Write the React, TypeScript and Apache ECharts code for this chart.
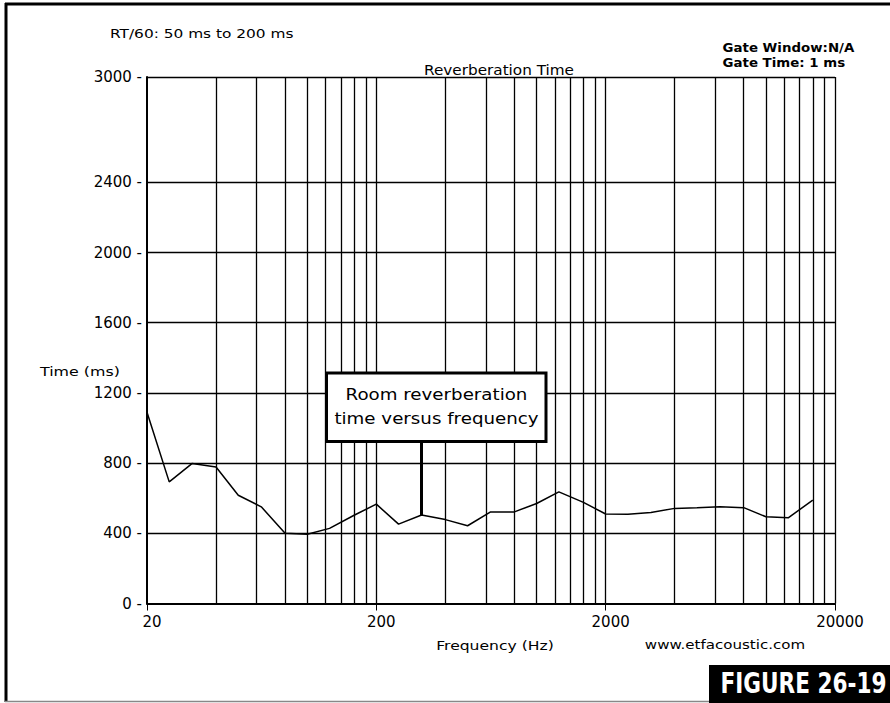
import React, { useEffect, useRef } from 'react';
import * as echarts from 'echarts';

// Third-octave centre frequencies (Hz) and reverberation time (ms)
const frequencies = [20, 25, 31.5, 40, 50, 63, 80, 100, 125, 160, 200, 250, 315, 400, 500, 630, 800, 1000, 1250, 1600, 2000, 2500, 3150, 4000, 5000, 6300, 8000, 10000, 12500, 16000];
const rt60 = [1090, 693, 798, 778, 617, 551, 400, 395, 428, 503, 566, 452, 504, 478, 443, 522, 522, 570, 636, 576, 510, 508, 519, 542, 546, 551, 546, 494, 488, 589];

const xTickLabels = [20, 200, 2000, 20000];
const yTickLabels = [0, 400, 800, 1200, 1600, 2000, 2400, 3000];
const verticalGrid = [40, 60, 80, 100, 120, 140, 160, 180, 200, 400, 600, 800, 1000, 1200, 1400, 1600, 1800, 2000, 4000, 6000, 8000, 10000, 12000, 14000, 16000, 18000, 20000];
const horizontalGrid = [400, 800, 1200, 1600, 2000, 2400, 3000];

// annotation pointer: frequency and its span in ms
const pointerFreq = 315;
const pointerFrom = 504;
const pointerTo = 920;

const FONT = 'DejaVu Sans';

export default function App() {
  const ref = useRef<HTMLDivElement>(null);
  useEffect(() => {
    if (!ref.current) return;
    const chart = echarts.init(ref.current, undefined, { renderer: 'svg' });
    const txt = (x: number, y: number, text: string, font: string, scaleX: number, align = 'left', z = 50) => ({
      type: 'text',
      x,
      y,
      scaleX,
      z,
      style: { text, fill: '#000', font, textAlign: align, textVerticalAlign: 'middle' },
    });
    const option: any = {
      animation: false,
      backgroundColor: '#ffffff',
      textStyle: { fontFamily: FONT, color: '#000' },
      grid: { left: 147, right: 55, top: 77, bottom: 99.5, containLabel: false, outerBoundsMode: 'none' },
      xAxis: {
        type: 'log',
        logBase: 10,
        min: 20,
        max: 20000,
        axisLine: { show: true, lineStyle: { color: '#000', width: 2 } },
        axisTick: { show: true, customValues: xTickLabels, length: 7, lineStyle: { color: '#000', width: 1 } },
        axisLabel: {
          customValues: xTickLabels,
          color: '#000',
          fontFamily: FONT,
          fontSize: 15,
          margin: 11,
          padding: [0, 0, 0, 10],
          formatter: (v: number) => String(v),
        },
        splitLine: { show: false },
        minorTick: { show: false },
      },
      yAxis: {
        type: 'value',
        min: 0,
        max: 3000,
        axisLine: { show: true, lineStyle: { color: '#000', width: 2 } },
        axisTick: { show: false },
        axisLabel: {
          customValues: yTickLabels,
          color: '#000',
          fontFamily: FONT,
          fontSize: 15,
          margin: 5,
          formatter: (v: number) => `${v} -`,
        },
        splitLine: { show: false },
      },
      series: [
        {
          name: 'grid',
          type: 'line',
          data: [],
          silent: true,
          z: 1,
          markLine: {
            silent: true,
            symbol: 'none',
            animation: false,
            label: { show: false },
            lineStyle: { color: '#000', width: 1.3, type: 'solid' },
            data: [
              ...verticalGrid.map((v) => ({ xAxis: v })),
              ...horizontalGrid.map((v) => ({ yAxis: v })),
            ],
          },
        },
        {
          name: 'Reverberation Time',
          type: 'line',
          data: frequencies.map((f, i) => [f, rt60[i]]),
          symbol: 'none',
          lineStyle: { color: '#000', width: 1.5 },
          z: 5,
          markLine: {
            silent: true,
            symbol: 'none',
            animation: false,
            label: { show: false },
            lineStyle: { color: '#000', width: 3, type: 'solid' },
            data: [[{ coord: [pointerFreq, pointerFrom] }, { coord: [pointerFreq, pointerTo] }]],
          },
        },
      ],
      graphic: [
        // outer frame
        { type: 'line', shape: { x1: 6, y1: 3, x2: 6, y2: 702 }, style: { stroke: '#000', lineWidth: 3 }, z: 50 },
        { type: 'line', shape: { x1: 5, y1: 4, x2: 890, y2: 4 }, style: { stroke: '#000', lineWidth: 3 }, z: 50 },
        { type: 'line', shape: { x1: 5, y1: 701.5, x2: 709, y2: 701.5 }, style: { stroke: '#888', lineWidth: 1.5 }, z: 50 },
        // header texts
        txt(110, 34, 'RT/60: 50 ms to 200 ms', `12.5px "${FONT}"`, 1.23),
        txt(499, 70, 'Reverberation Time', `14px "${FONT}"`, 1.09, 'center'),
        txt(722.5, 47.5, 'Gate Window:N/A', `bold 12.5px "${FONT}"`, 1.07),
        txt(722.5, 62.5, 'Gate Time: 1 ms', `bold 12.5px "${FONT}"`, 1.07),
        // axis titles
        txt(40, 372, 'Time (ms)', `13px "${FONT}"`, 1.22),
        txt(495, 645, 'Frequency (Hz)', `13px "${FONT}"`, 1.2, 'center'),
        txt(725, 644, 'www.etfacoustic.com', `13px "${FONT}"`, 1.16, 'center'),
        // annotation box
        { type: 'rect', shape: { x: 326.5, y: 373, width: 219.5, height: 68.5 }, style: { fill: '#fff', stroke: '#000', lineWidth: 3 }, z: 60 },
        txt(436.5, 394, 'Room reverberation', `16px "${FONT}"`, 1.14, 'center', 61),
        txt(436.5, 418, 'time versus frequency', `16px "${FONT}"`, 1.14, 'center', 61),
        // figure label
        { type: 'rect', shape: { x: 709, y: 665, width: 181, height: 38 }, style: { fill: '#000' }, z: 60 },
        {
          type: 'text', x: 803.5, y: 683, scaleX: 1.2, scaleY: 1.45, z: 61,
          style: { text: 'FIGURE 26-19', fill: '#fff', font: `bold 20px "DejaVu Sans Condensed"`, textAlign: 'center', textVerticalAlign: 'middle' },
        },
      ],
    };
    chart.setOption(option);
    return () => chart.dispose();
  }, []);
  return <div ref={ref} style={{ position: 'absolute', left: 0, top: 0, width: 890, height: 703, background: '#fff' }} />;
}
